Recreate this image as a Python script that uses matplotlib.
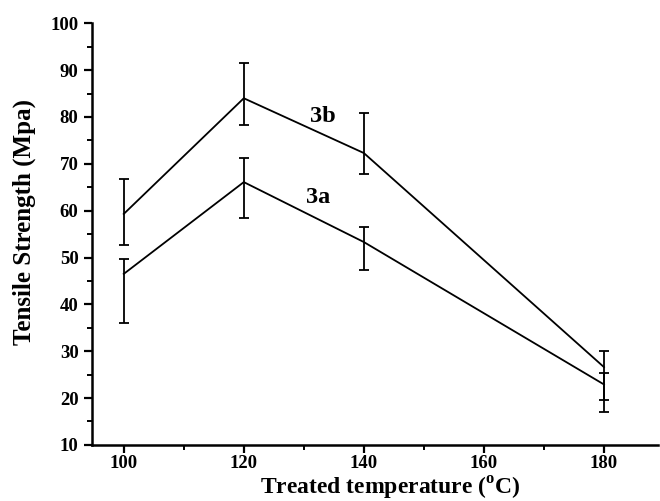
"""
Resistencia a la tracción vs temperatura de tratamiento (series 3a y 3b).
"""
import matplotlib.pyplot as plt
from matplotlib.ticker import MultipleLocator

#-->Fuente tipo Times en negrita
plt.rcParams["font.family"] = "Liberation Serif"
plt.rcParams["font.weight"] = "bold"
plt.rcParams["mathtext.fontset"] = "custom"
plt.rcParams["mathtext.rm"] = "Liberation Serif:bold"
plt.rcParams["mathtext.bf"] = "Liberation Serif:bold"

#-->Datos
temperaturas = [100, 120, 140, 180]

serie_3b = [59.3, 84.0, 72.3, 26.6]
sup_3b = [66.8, 91.5, 80.8, 30.0]
inf_3b = [52.7, 78.3, 67.9, 19.5]

serie_3a = [46.5, 66.1, 53.3, 22.9]
sup_3a = [49.7, 71.2, 56.5, 25.4]
inf_3a = [36.0, 58.4, 47.4, 17.0]

etiquetas = ["3b", "3a"]
pos_etiquetas = [(131.1, 80.1), (130.4, 62.8)]

fig = plt.figure(figsize=(6.6, 5.01), dpi=100)
ax = fig.add_axes([0.139, 0.112, 0.858, 0.8415])

#-->Curvas con barras de error asimétricas
for y, sup, inf in [(serie_3b, sup_3b, inf_3b), (serie_3a, sup_3a, inf_3a)]:
    err = [[v - lo for v, lo in zip(y, inf)], [hi - v for v, hi in zip(y, sup)]]
    ax.errorbar(temperaturas, y, yerr=err, color="black", lw=1.3,
                elinewidth=1.3, capsize=3.5, capthick=1.3)

for txt, (x, y) in zip(etiquetas, pos_etiquetas):
    ax.text(x, y, txt, fontsize=17.5, fontweight="bold", ha="left", va="center")

#-->Ejes
ax.set_xlim(94.67, 189)
ax.set_ylim(10, 100)
ax.xaxis.set_major_locator(MultipleLocator(20))
ax.xaxis.set_minor_locator(MultipleLocator(10))
ax.yaxis.set_major_locator(MultipleLocator(10))
ax.yaxis.set_minor_locator(MultipleLocator(5))
ax.tick_params(which="major", direction="out", length=6, width=1.6, labelsize=13.5)
ax.tick_params(axis="x", which="major", pad=1.5)
ax.tick_params(which="minor", direction="out", length=3.5, width=1.4)
for lab in ax.get_xticklabels() + ax.get_yticklabels():
    lab.set_fontweight("bold")

ax.spines["top"].set_visible(False)
ax.spines["right"].set_visible(False)
ax.spines["left"].set_linewidth(1.8)
ax.spines["bottom"].set_linewidth(1.8)

ax.set_ylabel("Tensile Strength (Mpa)", fontsize=18, fontweight="bold")
ax.yaxis.set_label_coords(-0.099, 0.529)
ax.set_xlabel(r"Treated temperature ($^{\mathrm{o}}$C)", fontsize=17,
              fontweight="bold")
ax.xaxis.set_label_coords(0.528, -0.072)

plt.savefig("out.png", dpi=100)
